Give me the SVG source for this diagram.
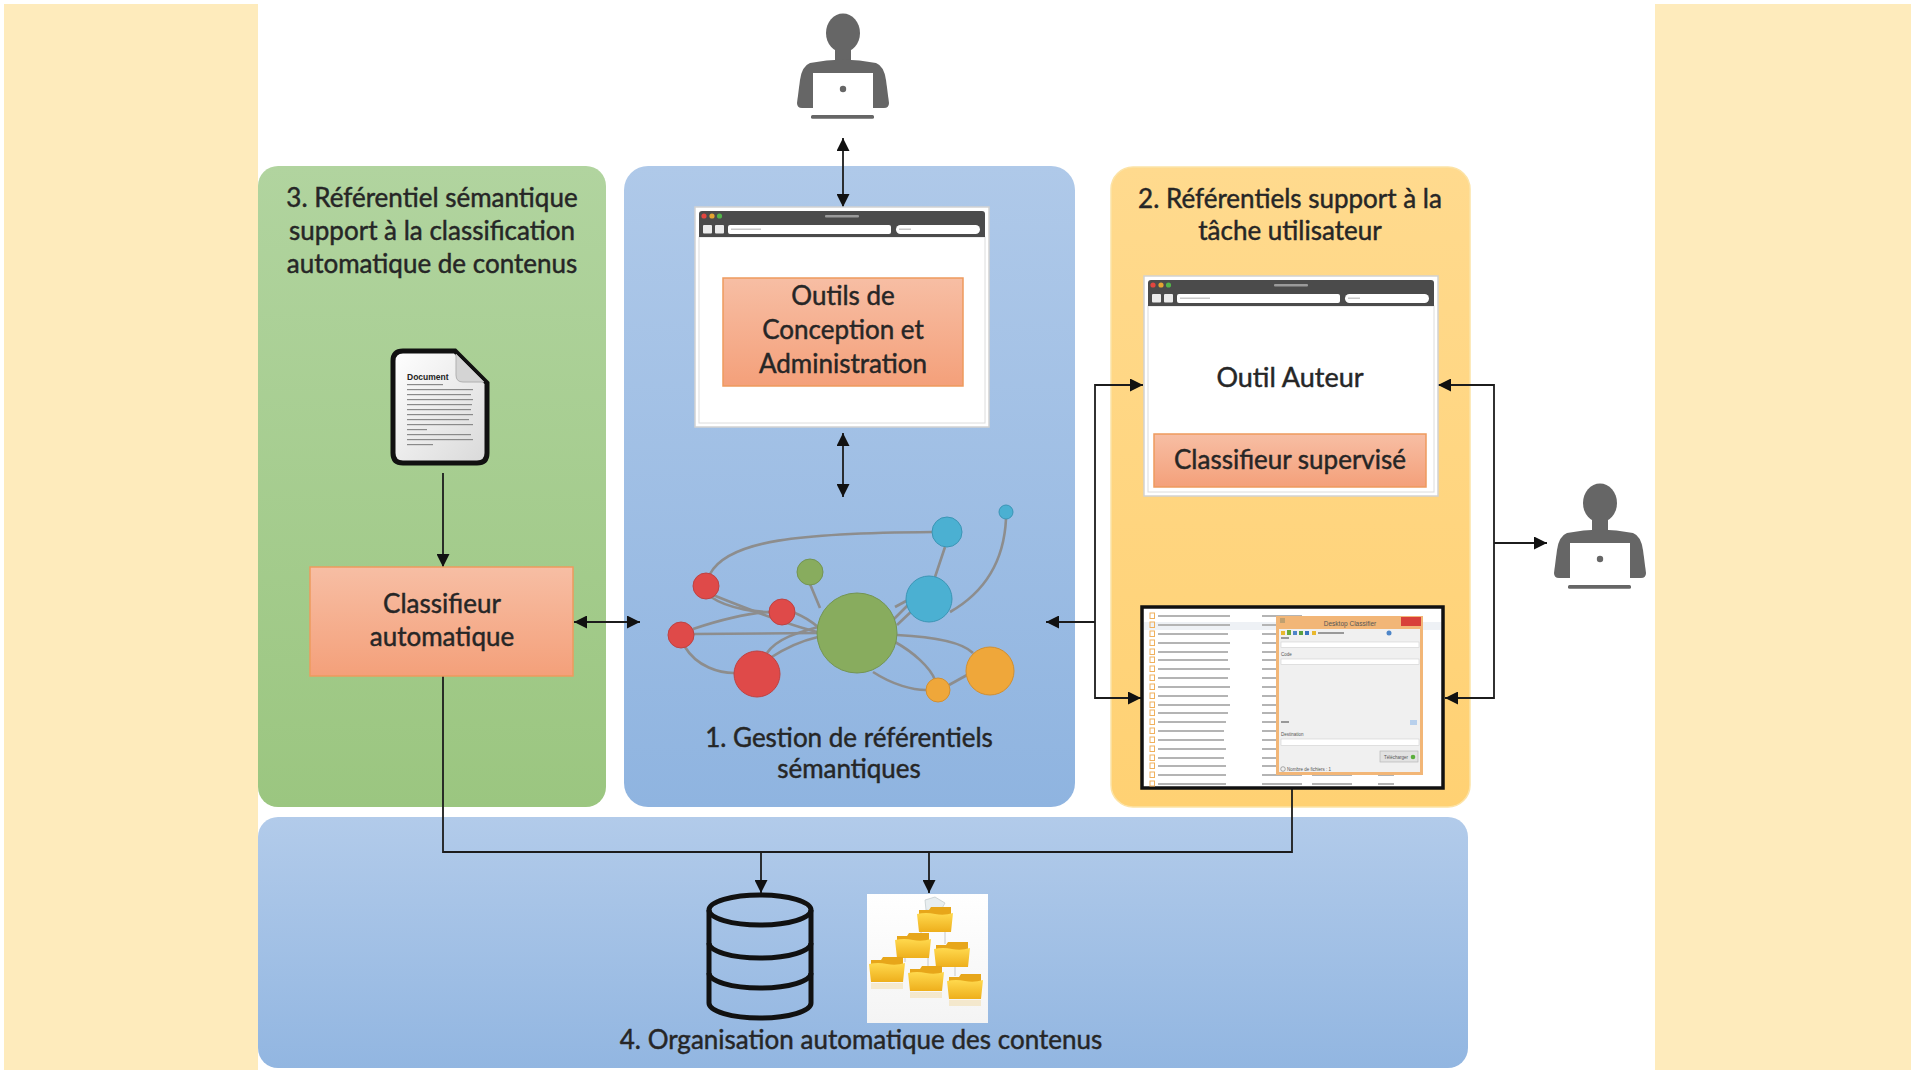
<svg xmlns="http://www.w3.org/2000/svg" xmlns:xlink="http://www.w3.org/1999/xlink" width="1911" height="1070" viewBox="0 0 1911 1070">
  <defs>
    <style>
      .t { font-family: Lato, "Liberation Sans", sans-serif; fill: #262626; stroke: #262626; stroke-width: 0.45; text-anchor: middle; }
      .title { font-size: 26px; }
      .box { stroke: #EE9A5E; stroke-width: 1.5; fill: url(#gBox); }
      .wire { fill: none; stroke: #1c1c1c; stroke-width: 1.8; }
      .edge { fill: none; stroke: #8d8d8d; stroke-width: 2.6; }
      .person { fill: #666666; }
      .tiny { font-family: "Liberation Sans", sans-serif; fill: #555; }
      .row { fill: #b4b4b4; }
    </style>
    <linearGradient id="gGreen" x1="0" y1="0" x2="0" y2="1">
      <stop offset="0" stop-color="#B1D49F"/>
      <stop offset="1" stop-color="#9BC680"/>
    </linearGradient>
    <linearGradient id="gBlue" x1="0" y1="0" x2="0" y2="1">
      <stop offset="0" stop-color="#AFC9E9"/>
      <stop offset="1" stop-color="#8FB4E0"/>
    </linearGradient>
    <linearGradient id="gOrange" x1="0" y1="0" x2="0" y2="1">
      <stop offset="0" stop-color="#FFDA8E"/>
      <stop offset="1" stop-color="#FFD173"/>
    </linearGradient>
    <linearGradient id="gBottom" x1="0" y1="0" x2="0" y2="1">
      <stop offset="0" stop-color="#B2CBEA"/>
      <stop offset="1" stop-color="#92B6E1"/>
    </linearGradient>
    <linearGradient id="gBox" x1="0" y1="0" x2="0" y2="1">
      <stop offset="0" stop-color="#F7BEA4"/>
      <stop offset="1" stop-color="#F4A07A"/>
    </linearGradient>
    <linearGradient id="gPage" x1="0" y1="0" x2="1" y2="1">
      <stop offset="0" stop-color="#ffffff"/>
      <stop offset="1" stop-color="#d9d9d9"/>
    </linearGradient>
    <linearGradient id="gFolder" x1="0" y1="0" x2="0" y2="1">
      <stop offset="0" stop-color="#FFD94E"/>
      <stop offset="1" stop-color="#EEAF1C"/>
    </linearGradient>
    <linearGradient id="gFolderImg" x1="0" y1="0" x2="0" y2="1">
      <stop offset="0" stop-color="#ffffff"/>
      <stop offset="1" stop-color="#f4f4f4"/>
    </linearGradient>
    <marker id="ah" viewBox="0 0 13 13" refX="13" refY="6.5" markerWidth="13" markerHeight="13" markerUnits="userSpaceOnUse" orient="auto-start-reverse">
      <path d="M0,0 L13,6.5 L0,13 Z" fill="#111"/>
    </marker>

    <!-- browser window frame, 294 x 220 -->
    <g id="browser">
      <rect x="0" y="0" width="294" height="220" fill="#ffffff" stroke="#d2d2d2" stroke-width="1.5"/>
      <rect x="4" y="30" width="286" height="186" fill="#ffffff" stroke="#dcdcdc" stroke-width="1"/>
      <path d="M4,30 V7 Q4,4 7,4 H287 Q290,4 290,7 V30 Z" fill="#4b4b4b"/>
      <circle cx="9" cy="9" r="2.6" fill="#E2463F"/>
      <circle cx="17" cy="9" r="2.6" fill="#E5A431"/>
      <circle cx="24.5" cy="9" r="2.6" fill="#53B44A"/>
      <rect x="130" y="8" width="34" height="2.5" rx="1" fill="#9a9a9a"/>
      <rect x="8" y="18" width="9" height="8.5" rx="1" fill="#ececec"/>
      <rect x="20" y="18" width="9" height="8.5" rx="1" fill="#ececec"/>
      <rect x="33" y="18" width="163" height="9" rx="2" fill="#ffffff"/>
      <rect x="36" y="21.5" width="30" height="1.5" fill="#c8c8c8"/>
      <rect x="201" y="18" width="84" height="9" rx="4.5" fill="#ffffff"/>
      <rect x="204" y="21.5" width="12" height="1.5" fill="#c8c8c8"/>
    </g>

    <!-- user at a laptop -->
    <g id="user">
      <ellipse cx="843" cy="33" rx="17" ry="19.5" class="person"/>
      <path class="person" d="M835,48 L835,60 L851,60 L851,48 Z"/>
      <path class="person" d="M810,63 Q843,56 876,63 Q884,66 886,80 L889,103 Q889,108 884,108 L802,108 Q797,108 797,103 L800,80 Q802,66 810,63 Z"/>
      <rect x="813" y="73" width="60" height="35.5" fill="#ffffff"/>
      <circle cx="843" cy="89" r="3.2" class="person"/>
      <rect x="811" y="115" width="63" height="3.8" rx="1.5" class="person"/>
    </g>

    <!-- folder, about 36 x 25 -->
    <g id="folder">
      <path d="M2,3 H12 L14,0 H34 V22 H2 Z" fill="#E7A61A"/>
      <path d="M0,7 Q9,5 18,7 T36,6 L34,25 H2 Z" fill="url(#gFolder)"/>
    </g>
  </defs>

  <!-- side bands -->
  <rect x="4" y="4" width="254" height="1066" fill="#FEEBBC"/>
  <rect x="1655" y="4" width="256" height="1066" fill="#FEEBBC"/>

  <!-- panel 3 -->
  <g id="panel-semantique">
    <rect x="258" y="166" width="348" height="641" rx="20" fill="url(#gGreen)"/>
    <text class="t title" x="432" y="207">3. Référentiel sémantique</text>
    <text class="t title" x="432" y="240">support à la classification</text>
    <text class="t title" x="432" y="273">automatique de contenus</text>
  </g>

  <!-- panel 1 -->
  <g id="panel-gestion">
    <rect x="624" y="166" width="451" height="641" rx="24" fill="url(#gBlue)"/>
    <text class="t title" x="849" y="747">1. Gestion de référentiels</text>
    <text class="t title" x="849" y="778">sémantiques</text>
  </g>

  <!-- panel 2 -->
  <g id="panel-tache">
    <rect x="1111" y="167" width="359" height="640" rx="22" fill="url(#gOrange)" stroke="#FCE3A6" stroke-width="1.5"/>
    <text class="t title" x="1290" y="208">2. Référentiels support à la</text>
    <text class="t title" x="1290" y="240">tâche utilisateur</text>
  </g>

  <!-- panel 4 -->
  <g id="panel-organisation">
    <rect x="258" y="817" width="1210" height="251" rx="20" fill="url(#gBottom)"/>
    <text class="t title" x="861" y="1049">4. Organisation automatique des contenus</text>
  </g>

  <!-- connectors -->
  <g id="connectors">
    <path class="wire" d="M843,138 V207" marker-start="url(#ah)" marker-end="url(#ah)"/>
    <path class="wire" d="M843,433 V497" marker-start="url(#ah)" marker-end="url(#ah)"/>
    <path class="wire" d="M574,622 H640" marker-start="url(#ah)" marker-end="url(#ah)"/>
    <path class="wire" d="M443,473 V567" marker-end="url(#ah)"/>
    <path class="wire" d="M1143,385 H1095 V698 H1141" marker-start="url(#ah)" marker-end="url(#ah)"/>
    <path class="wire" d="M1095,622 H1046" marker-end="url(#ah)"/>
    <path class="wire" d="M1438,385 H1494 V698 H1445" marker-start="url(#ah)" marker-end="url(#ah)"/>
    <path class="wire" d="M1494,543 H1547" marker-end="url(#ah)"/>
    <path class="wire" d="M443,676 V852 H1292 V789"/>
    <path class="wire" d="M761,852 V893" marker-end="url(#ah)"/>
    <path class="wire" d="M929,852 V893" marker-end="url(#ah)"/>
  </g>

  <!-- users -->
  <g id="user-admin">
    <use xlink:href="#user"/>
  </g>
  <g id="user-auteur">
    <use xlink:href="#user" transform="translate(757,470)"/>
  </g>

  <!-- design and administration tools -->
  <g id="outils-conception">
    <use xlink:href="#browser" transform="translate(695,207)"/>
    <rect class="box" x="723" y="278" width="240" height="108"/>
    <text class="t" x="843" y="305" font-size="26">Outils de</text>
    <text class="t" x="843" y="339" font-size="26">Conception et</text>
    <text class="t" x="843" y="373" font-size="26">Administration</text>
  </g>

  <!-- authoring tool -->
  <g id="outil-auteur">
    <use xlink:href="#browser" transform="translate(1144,276)"/>
    <text class="t" x="1290" y="387" font-size="27">Outil Auteur</text>
    <rect class="box" x="1154" y="434" width="272" height="53"/>
    <text class="t" x="1290" y="469" font-size="26">Classifieur supervisé</text>
  </g>

  <!-- document -->
  <g id="document">
    <path d="M403,351 H455 L487,383 V453 Q487,463 477,463 H403 Q393,463 393,453 V361 Q393,351 403,351 Z" fill="url(#gPage)" stroke="#111" stroke-width="5"/>
    <path d="M456,354 V375 Q456,382 463,382 H484 Z" fill="#d4d4d4" stroke="#b0b0b0" stroke-width="1"/>
    <text x="407" y="380" font-family="Liberation Sans, sans-serif" font-weight="bold" font-size="8.5" fill="#222">Document</text>
    <g fill="#8a8a8a">
      <rect x="407" y="384" width="36" height="1.2"/>
      <rect x="407" y="389" width="66" height="1.2"/>
      <rect x="407" y="394" width="64" height="1.2"/>
      <rect x="407" y="399" width="66" height="1.2"/>
      <rect x="407" y="404" width="65" height="1.2"/>
      <rect x="407" y="409" width="64" height="1.2"/>
      <rect x="407" y="414" width="66" height="1.2"/>
      <rect x="407" y="419" width="62" height="1.2"/>
      <rect x="407" y="424" width="66" height="1.2"/>
      <rect x="407" y="429" width="20" height="1.2"/>
      <rect x="407" y="434" width="64" height="1.2"/>
      <rect x="407" y="439" width="66" height="1.2"/>
      <rect x="407" y="444" width="26" height="1.2"/>
    </g>
  </g>

  <!-- automatic classifier -->
  <g id="classifieur-automatique">
    <rect class="box" x="310" y="567" width="263" height="109"/>
    <text class="t" x="442" y="613" font-size="26">Classifieur</text>
    <text class="t" x="442" y="646" font-size="26">automatique</text>
  </g>

  <!-- semantic network -->
  <g id="reseau-semantique">
    <g class="edge">
      <path d="M710,574 C728,540 800,533 933,532"/>
      <path d="M1006,519 C1004,560 985,592 950,612"/>
      <path d="M945,547 L935,577"/>
      <path d="M810,584 L820,608"/>
      <path d="M713,595 C750,610 790,625 817,632"/>
      <path d="M711,597 C730,610 760,612 770,612"/>
      <path d="M693,629 C720,620 750,613 770,612"/>
      <path d="M694,634 L817,633"/>
      <path d="M685,647 C697,667 720,673 734,673"/>
      <path d="M767,653 C777,638 800,632 818,627"/>
      <path d="M770,658 C787,647 805,640 818,637"/>
      <path d="M795,613 C805,617 812,622 818,627"/>
      <path d="M893,620 L910,603"/>
      <path d="M897,625 L915,608"/>
      <path d="M895,607 L908,600"/>
      <path d="M897,635 C937,637 963,643 973,653"/>
      <path d="M895,642 C913,652 930,667 935,680"/>
      <path d="M873,672 C893,685 913,690 926,690"/>
      <path d="M949,685 L967,675"/>
    </g>
    <circle cx="857" cy="633" r="40" fill="#88AC5E" stroke="#739452" stroke-width="1"/>
    <circle cx="810" cy="572" r="13" fill="#88AC5E" stroke="#739452" stroke-width="1"/>
    <circle cx="947" cy="532" r="15" fill="#4BB0D2" stroke="#3B95B5" stroke-width="1"/>
    <circle cx="1006" cy="512" r="7" fill="#4BB0D2" stroke="#3B95B5" stroke-width="1"/>
    <circle cx="929" cy="599" r="23" fill="#4BB0D2" stroke="#3B95B5" stroke-width="1"/>
    <circle cx="706" cy="586" r="13" fill="#DF4A49" stroke="#BE4242" stroke-width="1"/>
    <circle cx="782" cy="612" r="13" fill="#DF4A49" stroke="#BE4242" stroke-width="1"/>
    <circle cx="681" cy="635" r="13" fill="#DF4A49" stroke="#BE4242" stroke-width="1"/>
    <circle cx="757" cy="674" r="23" fill="#DF4A49" stroke="#BE4242" stroke-width="1"/>
    <circle cx="938" cy="690" r="12" fill="#EFA73A" stroke="#D18F32" stroke-width="1"/>
    <circle cx="990" cy="671" r="24" fill="#EFA73A" stroke="#D18F32" stroke-width="1"/>
  </g>

  <!-- desktop classifier screenshot -->
  <g id="desktop-classifier">
    <rect x="1142" y="607" width="301" height="181" fill="#ffffff" stroke="#111" stroke-width="3.5"/>
    <rect x="1144" y="622" width="297" height="8" fill="#eef1f5"/>
    <g>
      <g fill="none" stroke="#F0B05C" stroke-width="1">
        <rect x="1150" y="613" width="4.5" height="5.5"/><rect x="1150" y="622" width="4.5" height="5.5"/>
        <rect x="1150" y="631" width="4.5" height="5.5"/><rect x="1150" y="640" width="4.5" height="5.5"/>
        <rect x="1150" y="649" width="4.5" height="5.5"/><rect x="1150" y="657" width="4.5" height="5.5"/>
        <rect x="1150" y="666" width="4.5" height="5.5"/><rect x="1150" y="675" width="4.5" height="5.5"/>
        <rect x="1150" y="684" width="4.5" height="5.5"/><rect x="1150" y="693" width="4.5" height="5.5"/>
        <rect x="1150" y="702" width="4.5" height="5.5"/><rect x="1150" y="710" width="4.5" height="5.5"/>
        <rect x="1150" y="719" width="4.5" height="5.5"/><rect x="1150" y="728" width="4.5" height="5.5"/>
        <rect x="1150" y="737" width="4.5" height="5.5"/><rect x="1150" y="746" width="4.5" height="5.5"/>
        <rect x="1150" y="755" width="4.5" height="5.5"/><rect x="1150" y="763" width="4.5" height="5.5"/>
        <rect x="1150" y="772" width="4.5" height="5.5"/><rect x="1150" y="781" width="4.5" height="5"/>
      </g>
      <g class="row">
        <rect x="1158" y="615" width="72" height="2"/><rect x="1262" y="615" width="40" height="2"/>
        <rect x="1158" y="624" width="72" height="2"/><rect x="1262" y="624" width="40" height="2"/>
        <rect x="1158" y="633" width="70" height="2"/><rect x="1262" y="633" width="40" height="2"/>
        <rect x="1158" y="642" width="72" height="2"/><rect x="1262" y="642" width="40" height="2"/>
        <rect x="1158" y="651" width="70" height="2"/><rect x="1262" y="651" width="40" height="2"/>
        <rect x="1158" y="659" width="70" height="2"/><rect x="1262" y="659" width="40" height="2"/>
        <rect x="1158" y="668" width="72" height="2"/><rect x="1262" y="668" width="40" height="2"/>
        <rect x="1158" y="677" width="70" height="2"/><rect x="1262" y="677" width="40" height="2"/>
        <rect x="1158" y="686" width="72" height="2"/><rect x="1262" y="686" width="40" height="2"/>
        <rect x="1158" y="695" width="70" height="2"/><rect x="1262" y="695" width="40" height="2"/>
        <rect x="1158" y="704" width="72" height="2"/><rect x="1262" y="704" width="40" height="2"/>
        <rect x="1158" y="712" width="70" height="2"/><rect x="1262" y="712" width="40" height="2"/>
        <rect x="1158" y="721" width="68" height="2"/><rect x="1262" y="721" width="40" height="2"/>
        <rect x="1158" y="730" width="66" height="2"/><rect x="1262" y="730" width="40" height="2"/>
        <rect x="1158" y="739" width="66" height="2"/><rect x="1262" y="739" width="40" height="2"/>
        <rect x="1158" y="748" width="68" height="2"/><rect x="1262" y="748" width="40" height="2"/>
        <rect x="1158" y="757" width="66" height="2"/><rect x="1262" y="757" width="40" height="2"/>
        <rect x="1158" y="765" width="68" height="2"/><rect x="1262" y="765" width="40" height="2"/>
        <rect x="1158" y="774" width="68" height="2"/><rect x="1262" y="774" width="40" height="2"/>
        <rect x="1312" y="774" width="40" height="2"/><rect x="1378" y="774" width="16" height="2"/>
        <rect x="1158" y="783" width="68" height="2"/><rect x="1262" y="783" width="40" height="2"/>
        <rect x="1312" y="783" width="40" height="2"/><rect x="1378" y="783" width="16" height="2"/>
      </g>
    </g>
    <!-- dialog window -->
    <rect x="1276" y="616" width="147" height="159" fill="#F2B677"/>
    <rect x="1279" y="629" width="141" height="143" fill="#f0f0f0"/>
    <text class="tiny" x="1350" y="626" font-size="6.5" text-anchor="middle">Desktop Classifier</text>
    <rect x="1401" y="617" width="20" height="9" fill="#D8403A"/>
    <rect x="1280" y="618" width="5" height="5" fill="#c0a070"/>
    <g>
      <rect x="1281" y="631" width="4" height="4" fill="#E9B82E"/>
      <rect x="1287" y="630" width="4" height="5" fill="#6BAA3A"/>
      <rect x="1293" y="631" width="4" height="4" fill="#4E86C8"/>
      <rect x="1299" y="631" width="4" height="4" fill="#5AA040"/>
      <rect x="1305" y="631" width="4" height="4" fill="#3A74C0"/>
      <rect x="1312" y="631" width="4" height="4" fill="#E9B82E"/>
      <rect x="1318" y="632" width="26" height="2" fill="#999"/>
      <circle cx="1389" cy="633" r="2.5" fill="#4E86C8"/>
    </g>
    <rect x="1281" y="637" width="8" height="2" fill="#999"/>
    <rect x="1281" y="642" width="138" height="5.5" fill="#ffffff" stroke="#cfcfcf" stroke-width="0.6"/>
    <text class="tiny" x="1281" y="656" font-size="4.5">Code</text>
    <rect x="1281" y="659" width="138" height="5.5" fill="#ffffff" stroke="#cfcfcf" stroke-width="0.6"/>
    <rect x="1281" y="721" width="8" height="2" fill="#999"/>
    <rect x="1410" y="720" width="7" height="5" fill="#B8D0EC"/>
    <text class="tiny" x="1281" y="736" font-size="4.5">Destination</text>
    <rect x="1281" y="739" width="138" height="6.5" fill="#ffffff" stroke="#cfcfcf" stroke-width="0.6"/>
    <rect x="1380" y="751" width="38" height="11" fill="#e2e2e2" stroke="#b0b0b0" stroke-width="0.6"/>
    <text class="tiny" x="1396" y="758.5" font-size="4.5" text-anchor="middle">Télécharger</text>
    <circle cx="1413" cy="757" r="2.3" fill="#5AAE3C"/>
    <circle cx="1283" cy="769" r="2.3" fill="none" stroke="#777" stroke-width="0.6"/>
    <text class="tiny" x="1287" y="771" font-size="4.5">Nombre de fichiers : 1</text>
  </g>

  <!-- content store -->
  <g id="base-de-donnees" fill="none" stroke="#111" stroke-width="5">
    <ellipse cx="760" cy="910" rx="51" ry="15"/>
    <path d="M709,910 V1003 A51,15 0 0 0 811,1003 V910"/>
    <path d="M709,943 A51,15 0 0 0 811,943"/>
    <path d="M709,973 A51,15 0 0 0 811,973"/>
  </g>

  <!-- folder tree -->
  <g id="arborescence">
    <rect x="867" y="894" width="121" height="129" fill="url(#gFolderImg)"/>
    <g stroke="#c8c8c8" stroke-width="1">
      <path d="M921,932 V937"/><path d="M945,932 V944"/>
      <path d="M905,957 V962"/><path d="M928,957 V968"/><path d="M955,962 V976"/>
    </g>
    <path d="M925,900 L935,897 L945,903 L940,912 L926,910 Z" fill="#e8eef0" stroke="#c0c8cc" stroke-width="0.7"/>
    <use xlink:href="#folder" transform="translate(917,907)"/>
    <use xlink:href="#folder" transform="translate(895,933)"/>
    <use xlink:href="#folder" transform="translate(934,942)"/>
    <use xlink:href="#folder" transform="translate(869,957)"/>
    <use xlink:href="#folder" transform="translate(908,966)"/>
    <use xlink:href="#folder" transform="translate(947,974)"/>
    <g opacity="0.18">
      <rect x="871" y="983" width="32" height="6" fill="#EEAF1C"/>
      <rect x="910" y="992" width="32" height="6" fill="#EEAF1C"/>
      <rect x="949" y="1000" width="32" height="6" fill="#EEAF1C"/>
    </g>
  </g>
</svg>
